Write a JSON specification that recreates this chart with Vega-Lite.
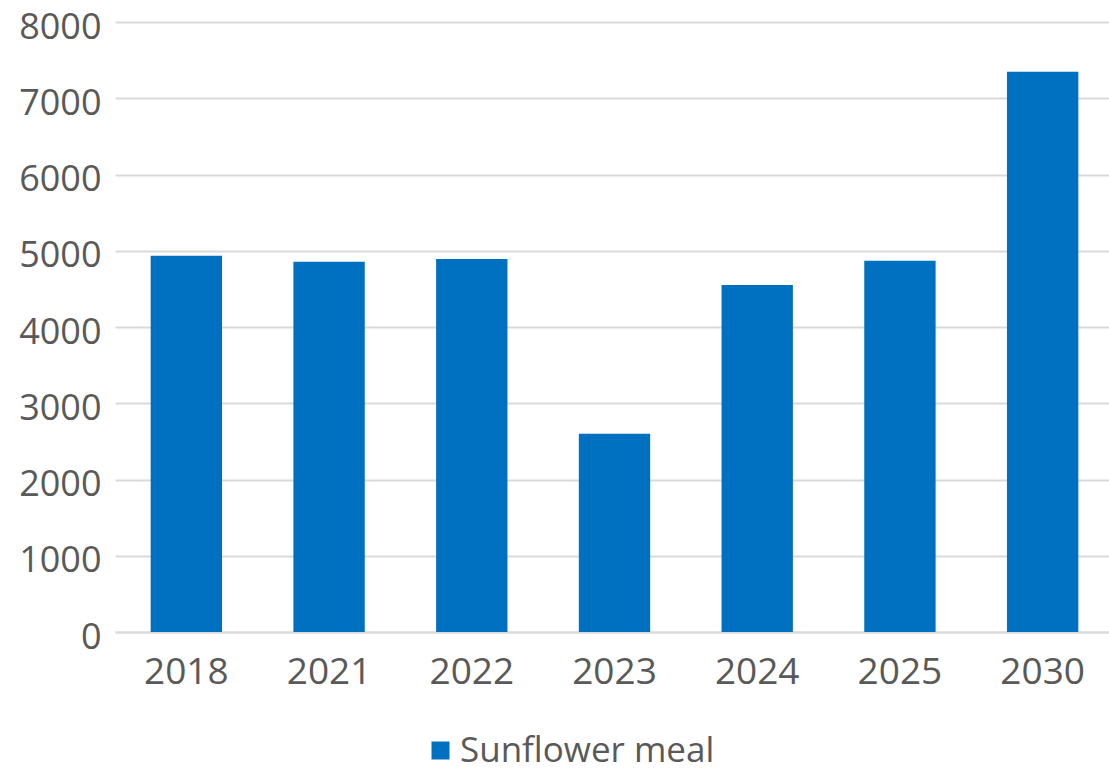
{
  "$schema": "https://vega.github.io/schema/vega-lite/v6.json",
  "autosize": "none",
  "width": 999,
  "height": 610,
  "padding": {"left": 115, "top": 22, "right": 0, "bottom": 138},
  "background": "white",
  "data": {
    "values": [
      {"year": "2018", "value": 4936, "series": "Sunflower meal"},
      {"year": "2021", "value": 4857, "series": "Sunflower meal"},
      {"year": "2022", "value": 4893, "series": "Sunflower meal"},
      {"year": "2023", "value": 2599, "series": "Sunflower meal"},
      {"year": "2024", "value": 4552, "series": "Sunflower meal"},
      {"year": "2025", "value": 4870, "series": "Sunflower meal"},
      {"year": "2030", "value": 7347, "series": "Sunflower meal"}
    ]
  },
  "mark": {"type": "bar"},
  "encoding": {
    "x": {
      "field": "year", "type": "nominal", "sort": null,
      "scale": {"paddingInner": 0.5, "paddingOuter": 0.25},
      "axis": {
        "title": null, "labelAngle": 0, "ticks": false,
        "domainColor": "#d9d9d9", "domainWidth": 2,
        "labelFont": "Open Sans", "labelFontSize": 37, "labelColor": "#595959",
        "labelPadding": 22
      }
    },
    "y": {
      "field": "value", "type": "quantitative",
      "scale": {"domain": [0, 8000], "nice": false},
      "axis": {
        "title": null, "values": [0, 1000, 2000, 3000, 4000, 5000, 6000, 7000, 8000],
        "format": "d", "ticks": false, "domain": false,
        "gridColor": "#d9d9d9", "gridWidth": 2,
        "labelFont": "Open Sans", "labelFontSize": 36, "labelColor": "#595959",
        "labelPadding": 14, "labelOffset": 5
      }
    },
    "color": {
      "field": "series", "type": "nominal",
      "scale": {"range": ["#0070C0"]},
      "legend": {
        "title": null, "orient": "none", "legendX": 308, "legendY": 711,
        "symbolType": "square", "symbolSize": 324, "symbolOpacity": 1,
        "symbolStrokeWidth": 0,
        "labelFont": "Open Sans", "labelFontSize": 35, "labelColor": "#595959",
        "labelOffset": 2, "labelLimit": 500
      }
    }
  },
  "config": {"view": {"stroke": null}}
}
